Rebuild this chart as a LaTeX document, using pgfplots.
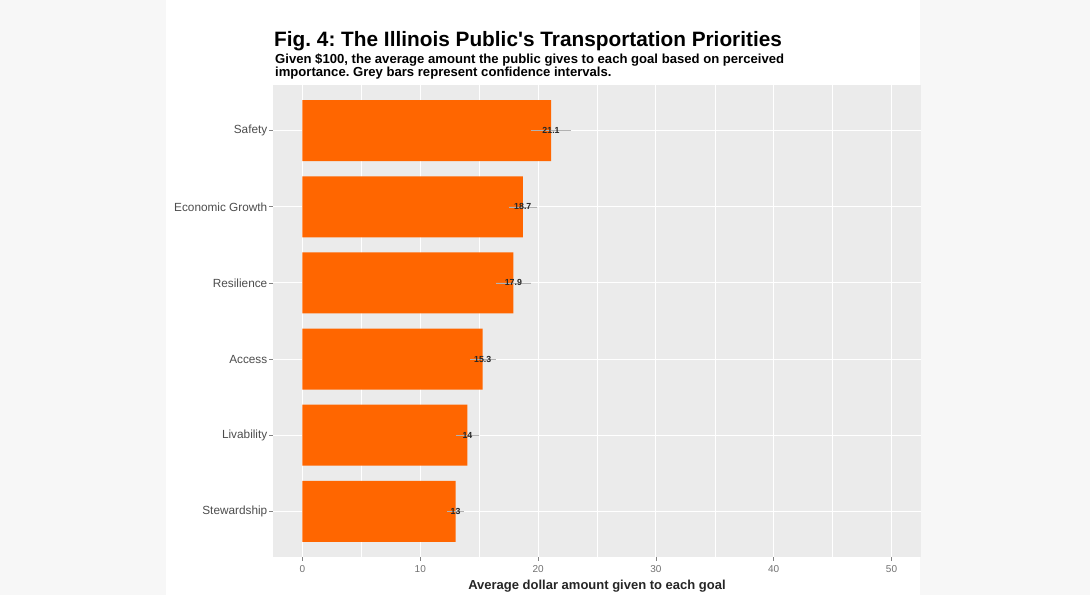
\documentclass[border=0pt]{standalone}
\usepackage{pgfplots}
\pgfplotsset{compat=1.18}
\usepackage{pgfplotstable}
\usepackage{fontspec}
\setmainfont{Liberation Sans}
\frenchspacing
\definecolor{outerc}{HTML}{F7F7F7}
\definecolor{panelc}{HTML}{EBEBEB}
\definecolor{barc}{HTML}{FF6600}
\definecolor{tickc}{HTML}{4D4D4D}
\pgfplotstableread{
y value err
6 21.1 1.7
5 18.7 1.2
4 17.9 1.5
3 15.3 1.1
2 14 1.0
1 13 0.7
}\prio
\begin{document}
\begin{tikzpicture}[x=1pt,y=1pt]
\fill[outerc] (0,0) rectangle (1090,595);
\fill[white] (166,0) rectangle (920,595);
\begin{axis}[
 at={(273pt,38pt)}, anchor=south west, scale only axis, width=648pt, height=472pt,
 xmin=-2.5, xmax=52.5, ymin=0.4, ymax=6.6,
 axis background/.style={fill=panelc}, axis line style={draw=none},
 xtick={0,10,...,50}, minor xtick={5,15,25,35,45},
 ytick={1,...,6}, yticklabels={Stewardship,Livability,Access,Resilience,Economic Growth,Safety},
 xmajorgrids, xminorgrids, ymajorgrids,
 major grid style={white, line width=1.1pt},
 minor grid style={white, line width=0.55pt},
 tick align=outside, major tick length=4pt, minor tick length=0pt, tick pos=left,
 tick style={tickc!70, line width=0.8pt},
 xticklabel style={font=\fontsize{10}{12}\selectfont, text=tickc!80, inner sep=2pt, yshift=-2pt},
 yticklabel style={font=\fontsize{11.8}{13}\selectfont, text=tickc, inner sep=1.5pt},
 /pgf/number format/assume math mode=true,
 point meta=x,
 nodes near coords,
 every node near coord/.append style={anchor=center, font=\bfseries\fontsize{8.8}{10}\selectfont, text=black!85},
]
\addplot[xbar, bar width=0.8, fill=barc, draw=none,
  error bars/.cd, x dir=both, x explicit, error mark=none,
  error bar style={gray!60, line width=0.6pt}]
  table[x=value, y=y, x error=err]{\prio};
\end{axis}
\node[anchor=base west, font=\bfseries\fontsize{20.8}{25}\selectfont, inner sep=0pt] at (274,548) {Fig. 4: The Illinois Public\textquotesingle s Transportation Priorities};
\node[anchor=base west, font=\bfseries\fontsize{13.1}{13}\selectfont, align=left, inner sep=0pt] at (275,518) {Given \$100, the average amount the public gives to each goal based on perceived\\importance. Grey bars represent confidence intervals.};
\node[anchor=base, font=\bfseries\fontsize{13}{15}\selectfont, text=black!85] at (597,5) {Average dollar amount given to each goal};
\end{tikzpicture}
\end{document}
